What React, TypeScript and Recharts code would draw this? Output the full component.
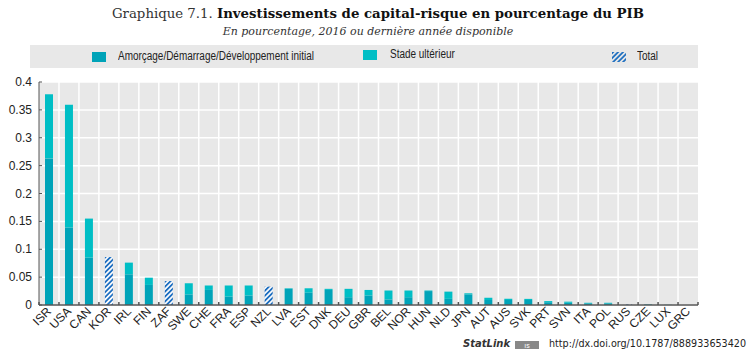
import React from 'react';
import { BarChart, Bar, XAxis, YAxis, CartesianGrid } from 'recharts';

const countries = ['ISR', 'USA', 'CAN', 'KOR', 'IRL', 'FIN', 'ZAF', 'SWE', 'CHE', 'FRA', 'ESP', 'NZL', 'LVA', 'EST', 'DNK', 'DEU', 'GBR', 'BEL', 'NOR', 'HUN', 'NLD', 'JPN', 'AUT', 'AUS', 'SVK', 'PRT', 'SVN', 'ITA', 'POL', 'RUS', 'CZE', 'LUX', 'GRC'];
const earlyStage = [0.263, 0.139, 0.085, null, 0.055, 0.036, null, 0.019, 0.027, 0.015, 0.017, null, 0.029, 0.022, 0.027, 0.014, 0.017, 0.010, 0.014, 0.025, 0.011, 0.019, 0.009, 0.009, 0.009, 0.005, 0.004, 0.003, 0.003, null, 0.001, 0.0003, 0];
const laterStage = [0.115, 0.220, 0.070, null, 0.021, 0.013, null, 0.020, 0.008, 0.020, 0.018, null, 0.001, 0.008, 0.002, 0.015, 0.010, 0.016, 0.012, 0.001, 0.013, 0.002, 0.004, 0.002, 0.002, 0.002, 0.002, 0.001, 0.001, null, 0, 0, 0];
const totalOnly = [null, null, null, 0.086, null, null, 0.043, null, null, null, null, 0.033, null, null, null, null, null, null, null, null, null, null, null, null, null, null, null, null, null, 0.001, null, null, null];
const yTicks = [0, 0.05, 0.1, 0.15, 0.2, 0.25, 0.3, 0.35, 0.4];

const data = countries.map((c, i) => ({
  name: c,
  early: earlyStage[i],
  later: laterStage[i],
  total: totalOnly[i],
}));

const DARK = '#00a3b8';
const LIGHT = '#00bec5';
const HATCH = '#1f6fc0';
const AXIS = '#555555';
const sans = '"Liberation Sans", Arial, sans-serif';
const serif = '"DejaVu Serif", serif';

const PLOT_LEFT = 39;
const PLOT_RIGHT = 698;
const BAND = (PLOT_RIGHT - PLOT_LEFT) / countries.length;

const XTick = (props: any) => {
  const { x, y, payload, index } = props;
  const bx = x - BAND / 2;
  return (
    <g>
      <line x1={bx} y1={y} x2={bx} y2={y - 3} stroke={AXIS} strokeWidth={1.5} />
      {index === countries.length - 1 && (
        <line x1={bx + BAND} y1={y} x2={bx + BAND} y2={y - 3} stroke={AXIS} strokeWidth={1.5} />
      )}
      <text
        x={x + 3}
        y={y + 7}
        textAnchor="end"
        fontSize={12}
        fontFamily={sans}
        fill="#222"
        transform={`rotate(-45, ${x + 3}, ${y + 7})`}
      >
        {payload.value}
      </text>
    </g>
  );
};

const YTick = (props: any) => {
  const { x, y, payload } = props;
  return (
    <g>
      <line x1={x} y1={y} x2={x + 3} y2={y} stroke={AXIS} strokeWidth={1} />
      <text x={x - 7} y={y + 4} textAnchor="end" fontSize={12} fontFamily={sans} fill="#222">
        {payload.value}
      </text>
    </g>
  );
};

const LegendSwatch = ({ color, hatch }: { color?: string; hatch?: boolean }) => (
  <svg width={14} height={10} style={{ display: 'block' }}>
    <rect width={14} height={10} fill={hatch ? 'url(#hatchLegend)' : color} />
  </svg>
);

const narrow: React.CSSProperties = { transform: 'scaleX(0.83)', transformOrigin: 'left center', whiteSpace: 'nowrap' };

export default function App() {
  return (
    <div style={{ position: 'absolute', left: 0, top: 0, width: 754, height: 355, background: '#fff', overflow: 'hidden' }}>
      <svg width={0} height={0} style={{ position: 'absolute' }}>
        <defs>
          <pattern id="hatch" patternUnits="userSpaceOnUse" width={3.5} height={3.5} patternTransform="rotate(45)">
            <rect width={3.5} height={3.5} fill="#ffffff" />
            <rect width={1.8} height={3.5} fill={HATCH} />
          </pattern>
          <pattern id="hatchLegend" patternUnits="userSpaceOnUse" width={3.5} height={3.5} patternTransform="rotate(45)">
            <rect width={3.5} height={3.5} fill="#e8e8e8" />
            <rect width={1.8} height={3.5} fill={HATCH} />
          </pattern>
        </defs>
      </svg>

      <div style={{ position: 'absolute', left: 0, top: 6, width: 754, textAlign: 'center', fontFamily: serif, fontSize: 13.3, color: '#333', whiteSpace: 'nowrap' }}>
        <span style={{ position: 'relative', left: 1 }}>
          Graphique 7.1. <b style={{ color: '#111' }}>Investissements de capital-risque en pourcentage du PIB</b>
        </span>
      </div>
      <div style={{ position: 'absolute', left: 0, top: 25, width: 754, textAlign: 'center', fontFamily: serif, fontStyle: 'italic', fontSize: 11, color: '#333' }}>
        <span style={{ position: 'relative', left: -9 }}>En pourcentage, 2016 ou dernière année disponible</span>
      </div>

      <div style={{ position: 'absolute', left: 30, top: 45, width: 668, height: 23, background: '#e8e8e8', fontFamily: sans, fontSize: 12, color: '#222' }}>
        <div style={{ position: 'absolute', left: 62, top: 7 }}><LegendSwatch color={DARK} /></div>
        <div style={{ position: 'absolute', left: 88, top: 4, ...narrow }}>Amorçage/Démarrage/Développement initial</div>
        <div style={{ position: 'absolute', left: 333, top: 5 }}><LegendSwatch color={LIGHT} /></div>
        <div style={{ position: 'absolute', left: 360, top: 2, ...narrow }}>Stade ultérieur</div>
        <div style={{ position: 'absolute', left: 582, top: 7 }}><LegendSwatch hatch /></div>
        <div style={{ position: 'absolute', left: 607, top: 4, ...narrow }}>Total</div>
      </div>

      <div style={{ position: 'absolute', left: 0, top: 0 }}>
        <BarChart
          width={754}
          height={355}
          data={data}
          margin={{ top: 82, right: 754 - PLOT_RIGHT, bottom: 0, left: 0 }}
          barSize={8}
        >
          <CartesianGrid
            stroke="#ffffff"
            strokeWidth={1.5}
            fill="#e8e8e8"
            verticalCoordinatesGenerator={({ offset }: any) =>
              countries.map((_, i) => offset.left + i * (offset.width / countries.length)).slice(1)
            }
          />
          <XAxis
            dataKey="name"
            interval={0}
            height={50}
            tickSize={0}
            tickMargin={0}
            tick={<XTick />}
            axisLine={{ stroke: AXIS, strokeWidth: 1.5 }}
            tickLine={false}
          />
          <YAxis
            width={PLOT_LEFT}
            domain={[0, 0.4]}
            ticks={yTicks}
            tickSize={0}
            tickMargin={0}
            tick={<YTick />}
            axisLine={{ stroke: AXIS, strokeWidth: 1 }}
            tickLine={false}
          />
          <Bar dataKey="early" stackId="a" fill={DARK} isAnimationActive={false} />
          <Bar dataKey="later" stackId="a" fill={LIGHT} isAnimationActive={false} />
          <Bar dataKey="total" stackId="a" fill="url(#hatch)" isAnimationActive={false} />
        </BarChart>
      </div>

      <div style={{ position: 'absolute', left: 463, top: 338, fontFamily: '"DejaVu Sans", sans-serif', fontSize: 10, fontWeight: 'bold', fontStyle: 'italic', color: '#333' }}>
        StatLink
      </div>
      <svg width={24} height={8} style={{ position: 'absolute', left: 515, top: 341 }}>
        <rect width={24} height={8} fill="#888" />
        <text x={12} y={7} fontSize={7} textAnchor="middle" fill="#fff" fontFamily={sans}>ıs</text>
      </svg>
      <div style={{ position: 'absolute', left: 549, top: 338, fontFamily: '"DejaVu Sans", sans-serif', fontSize: 9.6, color: '#222', whiteSpace: 'nowrap' }}>
        http://dx.doi.org/10.1787/888933653420
      </div>
    </div>
  );
}
